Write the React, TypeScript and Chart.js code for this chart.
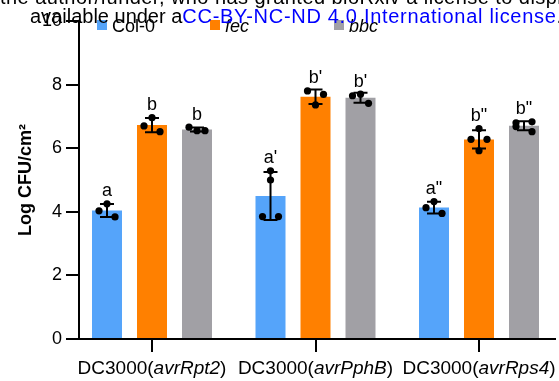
import React, { useEffect, useRef } from 'react';
import { Chart, registerables } from 'chart.js';

Chart.register(...registerables);

// ---------- data ----------
const strainPrefix = 'DC3000';
const effectors = ['avrRpt2', 'avrPphB', 'avrRps4'];
const seriesNames = ['Col-0', 'fec', 'bbc'];
const yTicks = [0, 2, 4, 6, 8, 10];

// replicate values (Log CFU/cm²) per effector group
const col0Replicates = [[4.25, 4.03, 3.84], [5.29, 5.0, 3.85, 3.85], [4.13, 4.32, 3.95]];
const fecReplicates = [[6.96, 6.7, 6.52], [7.8, 7.69, 7.36], [6.62, 6.28, 6.28, 5.92]];
const bbcReplicates = [[6.66, 6.55, 6.55], [7.65, 7.7, 7.41], [6.8, 6.68, 6.83, 6.52]];

// significance letters
const col0Letters = ['a', "a'", 'a"'];
const fecLetters = ['b', "b'", 'b"'];
const bbcLetters = ['b', "b'", 'b"'];

// scatter column (jitter slot) of each replicate dot
const col0Slots = [[0, -1, 1], [0, 0, -1, 1], [-1, 0, 1]];
const fecSlots = [[0, -1, 1], [-1, 1, 0], [0, -1, 1, 0]];
const bbcSlots = [[-1, 0, 1], [-1, 0, 1], [-1, -1, 1, 1]];

// ---------- styles / layout ----------
const FONT = '"Liberation Sans", Arial, Helvetica, sans-serif';
const seriesColors = ['#55A4FA', '#FF8000', '#A1A0A5'];
const seriesItalic = [false, true, true];
const LEGEND_X = [97, 210, 334];

const replicates = [col0Replicates, fecReplicates, bbcReplicates];
const letters = [col0Letters, fecLetters, bbcLetters];
const slots = [col0Slots, fecSlots, bbcSlots];

const mean = (a: number[]) => a.reduce((s, v) => s + v, 0) / a.length;
const sd = (a: number[]) => {
  const m = mean(a);
  return Math.sqrt(a.reduce((s, v) => s + (v - m) * (v - m), 0) / (a.length - 1));
};

const errorDotsPlugin = {
  id: 'errorDots',
  afterDatasetsDraw(chart: any) {
    const ctx = chart.ctx;
    const yS = chart.scales.y;
    const R = 3.6;
    chart.data.datasets.forEach((_ds: any, i: number) => {
      const meta = chart.getDatasetMeta(i);
      meta.data.forEach((bar: any, j: number) => {
        const reps = replicates[i][j];
        const m = mean(reps);
        const s = sd(reps);
        const x = bar.x;
        const yTop = yS.getPixelForValue(m + s);
        const yBot = yS.getPixelForValue(m - s);
        ctx.save();
        ctx.strokeStyle = '#000';
        ctx.fillStyle = '#000';
        ctx.lineWidth = 2;
        ctx.beginPath();
        ctx.moveTo(x, yTop);
        ctx.lineTo(x, yBot);
        ctx.moveTo(x - 7, yTop);
        ctx.lineTo(x + 7, yTop);
        ctx.moveTo(x - 7, yBot);
        ctx.lineTo(x + 7, yBot);
        ctx.stroke();
        let top = yTop;
        reps.forEach((v, k) => {
          const cx = x + slots[i][j][k] * 8;
          const cy = yS.getPixelForValue(v);
          ctx.beginPath();
          ctx.arc(cx, cy, R, 0, Math.PI * 2);
          ctx.fill();
          top = Math.min(top, cy - R);
        });
        ctx.font = `18px ${FONT}`;
        ctx.textAlign = 'center';
        ctx.textBaseline = 'alphabetic';
        ctx.fillText(letters[i][j], x, top - 4);
        ctx.restore();
      });
    });
  },
};

const labelsLegendPlugin = {
  id: 'labelsLegend',
  afterDraw(chart: any) {
    const ctx = chart.ctx;
    const xS = chart.scales.x;
    ctx.save();
    ctx.fillStyle = '#000';
    ctx.textBaseline = 'alphabetic';
    ctx.textAlign = 'left';
    // x category labels with italic effector names
    const normal = `19px ${FONT}`;
    const italic = `italic 19px ${FONT}`;
    effectors.forEach((eff, j) => {
      const parts = [
        { t: strainPrefix + '(', f: normal },
        { t: eff, f: italic },
        { t: ')', f: normal },
      ];
      let w = 0;
      parts.forEach((p) => {
        ctx.font = p.f;
        w += ctx.measureText(p.t).width;
      });
      let px = xS.getPixelForValue(j + 1) - w / 2;
      parts.forEach((p) => {
        ctx.font = p.f;
        ctx.fillText(p.t, px, 373.5);
        px += ctx.measureText(p.t).width;
      });
    });
    // legend
    seriesNames.forEach((name, i) => {
      const lx = LEGEND_X[i];
      ctx.fillStyle = seriesColors[i];
      ctx.fillRect(lx, 20, 10, 10);
      ctx.fillStyle = '#000';
      ctx.font = `${seriesItalic[i] ? 'italic ' : ''}18px ${FONT}`;
      ctx.fillText(name, lx + 15, 32);
    });
    ctx.restore();
  },
};

export default function App() {
  const canvasRef = useRef<HTMLCanvasElement | null>(null);

  useEffect(() => {
    document.body.style.margin = '0';
    const canvas = canvasRef.current;
    if (!canvas) return;
    const axisGrid = {
      drawOnChartArea: false,
      drawTicks: true,
      tickLength: 13,
      color: '#000',
      lineWidth: 2,
      offset: false,
    };
    const axisBorder = { display: true, color: '#000', width: 2 };
    const chart = new Chart(canvas, {
      type: 'bar',
      data: {
        datasets: seriesNames.map((name, i) => ({
          label: name,
          data: replicates[i].map((r, j) => ({ x: j + 1, y: mean(r) })),
          backgroundColor: seriesColors[i],
          borderWidth: 0,
          categoryPercentage: 0.8257,
          barPercentage: 0.6667,
        })),
      },
      options: {
        responsive: false,
        animation: false,
        devicePixelRatio: 1,
        layout: { padding: { top: 21, right: 4, left: 0, bottom: 0 } },
        plugins: { legend: { display: false }, tooltip: { enabled: false } },
        scales: {
          x: {
            type: 'linear',
            offset: false,
            min: 0.5535,
            max: 3.4648,
            afterBuildTicks: (s: any) => {
              s.ticks = effectors.map((_, j) => ({ value: j + 1 }));
            },
            afterFit: (s: any) => {
              s.height = 42;
            },
            grid: axisGrid,
            border: axisBorder,
            ticks: { display: false },
          },
          y: {
            type: 'linear',
            min: 0,
            max: 10,
            afterBuildTicks: (s: any) => {
              s.ticks = yTicks.map((v) => ({ value: v }));
            },
            afterFit: (s: any) => {
              s.width = 79;
            },
            grid: axisGrid,
            border: axisBorder,
            ticks: { color: '#000', padding: 4, font: { size: 18, family: FONT } },
            title: {
              display: true,
              text: 'Log CFU/cm²',
              color: '#000',
              font: { size: 18, weight: 'bold', family: FONT },
              padding: { top: 15, bottom: 0 },
            },
          },
        },
      } as any,
      plugins: [errorDotsPlugin, labelsLegendPlugin],
    });
    return () => chart.destroy();
  }, []);

  const wm: React.CSSProperties = {
    position: 'absolute',
    whiteSpace: 'nowrap',
    fontFamily: FONT,
    fontSize: '20px',
    lineHeight: '20px',
    color: '#000',
    zIndex: 2,
  };

  return (
    <div style={{ position: 'relative', width: 559, height: 381, overflow: 'hidden', background: '#fff' }}>
      <canvas ref={canvasRef} width={559} height={381} style={{ display: 'block' }} />
      <div style={{ ...wm, left: 0, top: -13, letterSpacing: '0.45px' }}>
        the author/funder, who has granted bioRxiv a license to display the preprint in perpetuity. It is made
      </div>
      <div style={{ ...wm, left: 30, top: 6 }}>
        available under a
        <span style={{ color: '#0000FF', letterSpacing: '0.7px' }}>CC-BY-NC-ND 4.0 International license</span>.
      </div>
    </div>
  );
}
